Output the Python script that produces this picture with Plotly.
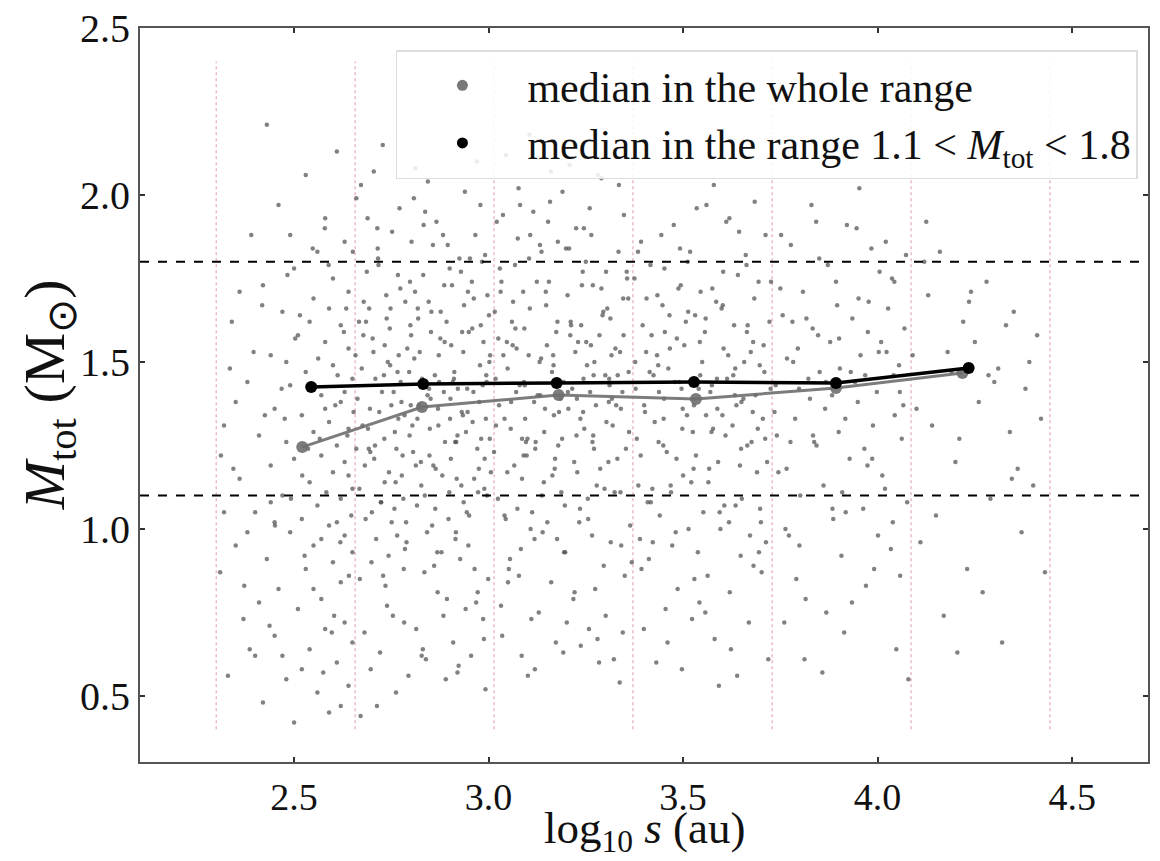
import plotly.graph_objects as go

# ---------------- data ----------------
bin_edges = [2.300, 2.657, 3.014, 3.371, 3.729, 4.086, 4.443]
ref_lines = [1.1, 1.8]

median_x_all = [2.521, 2.829, 3.180, 3.533, 3.893, 4.218]
median_y_all = [1.245, 1.365, 1.401, 1.389, 1.422, 1.467]
median_x_sub = [2.544, 2.832, 3.175, 3.528, 3.893, 4.234]
median_y_sub = [1.425, 1.434, 1.437, 1.440, 1.437, 1.482]

bin1_x = [2.31,2.32,2.33,2.34,2.35,2.36,2.37,2.38,2.39,2.40,
          2.40,2.41,2.42,2.42,2.43,2.43,2.44,2.44,2.45,2.45,
          2.46,2.46,2.47,2.47,2.48,2.48,2.49,2.49,2.50,2.50,
          2.50,2.51,2.51,2.52,2.52,2.53,2.53,2.53,2.54,2.54,
          2.55,2.55,2.55,2.56,2.56,2.56,2.57,2.57,2.57,2.58,
          2.58,2.58,2.59,2.59,2.59,2.60,2.60,2.60,2.60,2.61,
          2.61,2.61,2.62,2.62,2.62,2.62,2.63,2.63,2.63,2.63,
          2.64,2.64,2.64,2.64,2.65,2.65,2.65,2.65,2.66,2.66,
          2.36,2.38,2.41,2.44,2.47,2.49,2.52,2.54,2.57,2.59,
          2.61,2.63,2.32,2.48,2.58,2.62,2.35,2.45,2.55,2.64,
          2.335,2.372,2.418,2.451,2.476,2.503,2.527,2.548,2.566,2.583,
          2.597,2.612,2.628,2.641,2.653,2.344,2.396,2.437,2.468,2.492,
          2.515,2.536,2.562,2.575,2.589,2.606,2.619,2.634,2.647,2.658,
          2.312,2.386,2.425,2.483,2.521,2.553,2.579,2.603,2.637,2.651]
bin1_y = [0.87,1.31,0.56,1.62,0.95,1.15,0.73,1.44,1.88,0.62,
          1.05,1.28,0.48,1.73,2.21,0.91,1.19,1.52,0.68,1.36,
          0.82,1.97,1.10,1.65,0.55,1.26,0.99,1.43,0.42,1.78,
          1.21,0.76,1.58,1.03,1.34,0.88,2.06,1.47,0.64,1.14,
          1.69,0.95,1.29,0.51,1.83,1.07,1.40,0.79,1.22,1.93,
          0.70,1.56,1.01,1.32,0.45,1.75,0.90,1.17,1.49,0.60,
          1.25,2.13,0.84,1.61,1.09,1.38,0.72,1.86,1.20,0.98,
          1.54,0.53,1.30,1.71,0.93,1.12,1.45,0.66,1.99,1.24,
          1.71,0.99,0.78,1.08,0.62,1.88,0.58,1.62,0.97,1.66,
          1.02,1.41,1.05,1.50,1.36,0.47,1.38,1.02,0.82,1.16,
          1.48,0.83,1.67,1.01,1.33,1.57,0.92,1.84,1.27,1.11,
          0.69,1.46,1.59,0.86,1.35,1.18,1.53,0.71,1.42,1.09,
          1.64,1.24,1.51,0.57,1.79,1.37,0.96,1.66,1.04,1.52,
          1.22,0.64,1.34,1.76,1.16,1.43,1.90,0.74,1.28,1.83]

bin2_x = [2.668,2.702,2.735,2.771,2.804,2.839,2.873,2.906,2.944,2.981,
          2.674,2.711,2.748,2.779,2.812,2.851,2.884,2.918,2.952,2.992,
          2.681,2.719,2.752,2.788,2.823,2.858,2.892,2.927,2.961,2.997,
          2.687,2.724,2.759,2.794,2.829,2.866,2.899,2.934,2.968,3.004,
          2.692,2.728,2.765,2.799,2.835,2.870,2.904,2.939,2.975,2.985,
          2.671,2.706,2.741,2.776,2.816,2.846,2.879,2.912,2.949,2.988,
          2.678,2.715,2.744,2.783,2.819,2.855,2.888,2.923,2.957,2.993,
          2.684,2.721,2.756,2.791,2.826,2.862,2.895,2.930,2.964,3.001,
          2.695,2.731,2.762,2.797,2.832,2.869,2.902,2.937,2.971,2.979,
          2.699,2.737,2.768,2.802,2.842,2.876,2.909,2.942,2.978,2.996,
          2.667,2.708,2.739,2.774,2.809,2.844,2.881,2.915,2.946,2.983,
          2.676,2.713,2.746,2.781,2.814,2.849,2.886,2.921,2.955,2.990,
          2.689,2.726,2.758,2.786,2.821,2.860,2.897,2.932,2.966,2.999,
          2.697,2.733,2.767,2.806,2.837,2.872,2.911,2.941,2.973,2.987,
          2.682,2.717,2.750,2.785,2.827,2.853,2.890,2.925,2.959,2.995,
          2.693,2.729,2.763,2.796,2.831,2.864,2.901,2.936,2.970,3.003,
          2.672,2.704,2.743,2.777,2.811,2.847,2.883,2.917,2.950,2.986,
          2.663,2.685,2.700,2.716,2.732,2.747,2.761,2.773,2.789,2.801,
          2.817,2.833,2.848,2.863,2.877,2.893,2.908,2.920,2.935,2.948,
          2.962,2.976,2.991,3.006,2.669,2.690,2.709,2.723,2.738,2.754,
          2.769,2.784,2.798,2.813,2.828,2.843,2.857,2.871,2.887,2.903,
          2.916,2.929,2.945,2.958,2.972,2.989,3.002,2.679,2.696,2.714,
          2.733,2.751,2.766,2.782,2.800,2.818,2.836,2.852,2.868,2.885,
          2.900,2.914,2.931,2.947,2.963,2.980,2.994,2.705,2.808,2.920]
bin2_y = [1.12,1.57,0.83,1.96,1.31,0.61,1.44,1.73,1.05,1.27,
          1.48,0.97,1.66,1.22,2.08,1.39,0.74,1.15,1.81,0.52,
          0.69,1.35,1.89,1.02,1.53,1.19,1.62,0.91,1.41,1.70,
          1.77,1.08,1.29,0.56,1.45,1.92,1.11,1.34,0.78,1.52,
          1.24,2.15,0.98,1.61,0.87,1.36,1.55,2.01,1.18,1.43,
          0.44,1.21,1.50,1.38,1.07,1.68,0.93,1.47,1.59,0.67,
          1.58,1.84,1.17,0.72,1.63,1.01,1.26,0.59,1.74,1.33,
          1.03,0.63,1.41,1.54,1.20,1.46,1.85,1.13,0.88,1.64,
          1.36,1.46,0.51,1.28,1.76,0.81,1.39,1.67,1.24,1.97,
          0.90,1.70,1.33,1.86,0.99,1.57,0.66,1.29,1.49,1.10,
          1.62,1.25,0.77,1.44,1.51,2.04,1.16,0.97,1.35,1.80,
          1.31,0.47,1.60,1.09,0.70,1.30,1.73,1.42,0.62,1.21,
          1.93,1.41,1.06,1.68,1.37,0.89,1.03,1.59,1.88,0.85,
          0.58,1.14,1.76,1.23,1.95,1.52,1.45,0.76,1.11,1.56,
          1.19,1.79,1.37,0.94,1.13,1.65,0.55,1.81,1.32,1.44,
          1.66,0.86,1.24,1.47,0.64,1.18,1.33,1.08,2.10,1.27,
          2.03,1.53,0.92,1.16,1.71,1.42,1.88,1.26,1.04,0.73,
          1.39,1.62,1.05,1.81,1.27,1.49,1.14,1.72,0.96,1.58,
          1.33,1.91,1.22,1.06,1.65,0.79,1.44,1.28,1.53,0.95,
          1.69,1.38,1.82,1.17,0.85,1.30,1.45,1.08,1.63,0.74,
          1.52,1.34,1.74,1.19,0.62,1.40,1.85,1.31,1.56,1.21,
          0.99,1.77,1.42,1.60,0.81,1.12,1.50,1.68,1.23,1.90,
          1.55,1.02,1.47,0.88,1.37,1.66,1.10,1.59,0.93,1.41,
          1.78,1.26,1.35,1.71,1.15,1.61,1.46,2.07,1.99,0.57]

bin3_x = [3.018,3.052,3.089,3.121,3.158,3.192,3.227,3.263,3.298,3.334,
          3.024,3.060,3.094,3.129,3.163,3.199,3.233,3.269,3.305,3.341,
          3.029,3.066,3.101,3.135,3.171,3.205,3.240,3.274,3.311,3.347,
          3.035,3.071,3.107,3.142,3.176,3.212,3.246,3.281,3.316,3.353,
          3.041,3.077,3.112,3.148,3.182,3.218,3.253,3.287,3.322,3.359,
          3.047,3.083,3.117,3.153,3.187,3.223,3.258,3.293,3.328,3.364,
          3.014,3.049,3.086,3.119,3.155,3.189,3.225,3.261,3.296,3.332,
          3.021,3.057,3.092,3.126,3.161,3.196,3.230,3.266,3.302,3.337,
          3.032,3.063,3.098,3.132,3.168,3.203,3.237,3.272,3.308,3.344,
          3.038,3.074,3.104,3.139,3.174,3.208,3.243,3.278,3.313,3.350,
          3.044,3.080,3.110,3.145,3.179,3.215,3.250,3.284,3.319,3.356,
          3.016,3.055,3.091,3.124,3.166,3.194,3.228,3.264,3.300,3.339,
          3.027,3.068,3.096,3.137,3.173,3.210,3.244,3.276,3.314,3.348,
          3.050,3.086,3.115,3.150,3.185,3.220,3.256,3.290,3.326,3.361,
          3.031,3.072,3.108,3.143,3.178,3.201,3.238,3.271,3.309,3.345,
          3.045,3.105,3.160,3.222,3.290,3.081,3.190,3.260,3.335,3.128,
          3.019,3.033,3.048,3.062,3.078,3.093,3.106,3.120,3.136,3.151,
          3.167,3.181,3.197,3.211,3.226,3.242,3.255,3.270,3.285,3.301,
          3.317,3.331,3.346,3.360,3.025,3.041,3.058,3.075,3.090,3.103,
          3.118,3.133,3.147,3.164,3.177,3.193,3.207,3.221,3.236,3.251,
          3.267,3.280,3.295,3.310,3.324,3.340,3.355,3.368,3.037,3.069,
          3.100,3.131,3.170,3.204,3.235,3.268,3.303,3.338,3.085,3.245]
bin3_y = [1.45,0.88,1.71,1.26,1.98,0.63,1.39,1.55,1.12,1.83,
          1.09,1.62,1.33,0.75,1.47,1.84,1.02,1.28,1.66,0.95,
          1.78,1.19,0.56,1.51,1.21,1.36,1.73,0.82,1.43,1.58,
          0.68,1.41,1.88,1.14,0.97,1.61,1.30,2.06,1.52,1.24,
          1.33,2.02,1.05,1.67,1.44,0.79,1.49,1.18,0.61,1.69,
          1.56,0.94,1.38,1.92,1.11,1.53,0.70,1.64,1.37,1.01,
          1.23,1.48,1.15,0.58,1.74,1.27,1.90,1.41,0.89,1.46,
          1.92,1.30,1.60,1.40,0.84,1.07,1.56,0.98,1.77,0.54,
          0.77,1.68,1.22,1.85,1.34,1.70,0.65,1.50,1.20,1.41,
          1.52,1.06,1.81,0.99,1.59,2.09,1.35,1.13,1.63,0.86,
          1.03,1.43,0.73,1.36,1.25,1.42,1.80,0.60,1.31,1.75,
          1.65,0.91,1.44,1.74,1.52,0.93,1.17,1.88,1.46,1.11,
          1.37,1.79,1.26,1.10,0.66,1.58,1.45,1.37,0.96,1.94,
          0.84,1.27,1.95,1.55,1.39,1.20,1.03,1.72,1.54,1.29,
          1.71,1.54,1.00,1.29,1.86,0.72,1.61,1.24,1.38,0.69,
          2.12,2.18,2.07,2.15,2.05,1.97,2.01,1.96,2.03,2.11,
          1.31,1.74,1.17,1.55,0.86,1.43,1.66,1.24,1.83,1.02,
          1.49,1.35,0.93,1.62,1.28,1.77,1.09,1.46,1.58,0.74,
          1.39,1.21,1.69,1.47,1.57,1.04,1.38,1.87,1.22,1.52,
          0.97,1.40,1.71,1.16,1.62,1.44,1.84,0.81,1.33,1.56,
          1.26,0.67,1.65,1.45,1.11,1.36,1.77,0.90,1.94,1.60,
          1.27,1.50,1.18,1.41,1.06,1.73,1.32,1.53,0.62,1.90]

bin4_x = [3.378,3.412,3.447,3.483,3.518,3.552,3.588,3.623,3.657,3.694,
          3.385,3.419,3.455,3.490,3.525,3.560,3.596,3.631,3.665,3.702,
          3.392,3.427,3.462,3.497,3.531,3.567,3.603,3.637,3.672,3.709,
          3.399,3.434,3.469,3.503,3.538,3.574,3.609,3.644,3.680,3.716,
          3.405,3.440,3.476,3.510,3.545,3.581,3.616,3.651,3.686,3.722,
          3.381,3.416,3.451,3.486,3.521,3.556,3.592,3.627,3.661,3.698,
          3.389,3.424,3.458,3.494,3.528,3.563,3.599,3.634,3.669,3.705,
          3.396,3.431,3.466,3.500,3.535,3.570,3.606,3.641,3.676,3.712,
          3.402,3.437,3.472,3.507,3.542,3.577,3.613,3.648,3.683,3.719,
          3.409,3.444,3.479,3.514,3.549,3.585,3.620,3.655,3.690,3.725,
          3.375,3.421,3.453,3.499,3.533,3.579,3.601,3.646,3.674,3.713,
          3.393,3.436,3.460,3.492,3.540,3.565,3.611,3.639,3.692,3.707,
          3.414,3.450,3.488,3.523,3.558,3.594,3.629,3.663,3.700,3.684,
          3.377,3.391,3.406,3.422,3.438,3.452,3.468,3.484,3.498,3.513,
          3.529,3.544,3.559,3.575,3.590,3.604,3.619,3.635,3.650,3.666,
          3.681,3.697,3.711,3.726,3.384,3.400,3.417,3.433,3.449,3.465,
          3.481,3.496,3.512,3.527,3.543,3.557,3.573,3.587,3.602,3.618,
          3.633,3.649,3.664,3.679,3.695]
bin4_y = [1.42,0.91,1.67,1.21,1.83,1.05,1.36,0.64,1.50,1.74,
          1.13,1.58,0.76,1.44,1.29,1.97,1.00,1.61,1.25,0.87,
          1.86,1.32,1.48,0.58,1.64,1.18,1.77,1.37,0.98,1.47,
          0.70,1.70,1.11,1.55,0.93,1.43,1.28,1.89,1.56,1.20,
          1.53,1.04,1.91,1.34,1.71,0.67,1.52,1.09,1.40,1.62,
          1.27,1.79,1.39,0.82,1.14,1.59,0.53,1.31,1.82,1.06,
          0.97,1.46,1.23,1.73,1.37,0.86,1.66,1.48,0.72,1.33,
          1.61,0.60,1.54,1.16,1.96,1.41,1.07,1.76,1.26,1.88,
          1.35,1.26,0.95,1.62,0.78,1.30,1.45,0.92,1.69,0.61,
          1.08,1.88,1.44,1.00,1.50,1.68,0.81,1.39,1.17,1.42,
          1.75,1.12,1.59,1.36,1.22,2.03,1.34,1.19,1.53,0.96,
          0.88,1.49,0.66,1.84,1.42,1.14,1.92,0.56,1.30,1.55,
          1.47,1.33,1.72,0.73,1.63,1.05,1.46,1.79,1.02,1.98,
          1.50,1.22,1.69,0.96,1.41,1.78,1.13,1.57,1.30,1.65,
          0.85,1.46,1.34,1.72,1.20,1.54,1.93,1.07,1.38,1.61,
          0.89,1.49,1.27,1.74,1.83,1.37,1.08,1.52,1.25,1.64,
          0.99,1.42,1.80,1.18,1.56,0.75,1.29,1.45,1.67,1.02,
          1.40,1.24,1.59,1.35,0.93]

bin5_x = [3.738,3.772,3.808,3.843,3.878,3.914,3.949,3.984,4.019,4.055,
          3.745,3.781,3.815,3.851,3.886,3.921,3.956,3.991,4.027,4.062,
          3.752,3.788,3.822,3.858,3.893,3.928,3.963,3.998,4.034,4.069,
          3.760,3.795,3.830,3.865,3.900,3.935,3.970,4.005,4.041,4.076,
          3.767,3.801,3.837,3.872,3.907,3.942,3.977,4.012,4.048,4.073,
          3.741,3.777,3.812,3.847,3.883,3.918,3.953,3.988,4.023,4.058,
          3.756,3.791,3.826,3.861,3.896,3.931,3.966,4.001,4.037,4.066,
          3.763,3.798,3.833,3.868,3.903,3.946,3.974,4.009,4.044,4.079,
          3.735,3.750,3.766,3.783,3.799,3.817,3.834,3.850,3.867,3.884,
          3.901,3.917,3.934,3.951,3.968,3.986,4.003,4.021,4.039,4.057,
          3.776,3.842,3.909,3.975,4.043]
bin5_y = [1.43,0.98,1.71,1.25,1.56,0.69,1.38,1.84,1.12,1.49,
          1.17,1.62,0.79,1.47,1.03,1.91,1.52,0.88,1.66,1.27,
          1.88,1.33,1.45,0.57,1.74,1.21,1.06,1.41,0.94,1.60,
          0.72,1.54,1.97,1.36,1.29,1.63,0.83,1.77,1.46,1.08,
          1.51,1.10,1.26,1.79,0.92,1.44,1.68,1.16,0.64,1.82,
          1.28,1.85,0.61,1.58,1.40,1.05,2.02,1.31,1.53,0.86,
          1.64,0.85,1.39,1.13,1.67,1.47,1.24,0.98,1.75,1.37,
          1.00,1.42,1.60,0.75,1.48,1.90,1.19,1.56,1.34,0.55,
          1.35,1.72,1.18,1.50,0.95,1.63,1.28,1.81,1.44,1.06,
          1.57,1.33,0.78,1.69,1.46,1.21,1.53,1.86,1.02,1.41,
          1.26,1.92,1.11,1.59,1.74]

bin6_x = [4.09,4.11,4.13,4.14,4.16,4.17,4.19,4.20,4.22,4.23,
          4.25,4.26,4.28,4.29,4.31,4.32,4.34,4.35,4.37,4.38,
          4.40,4.41,4.43,4.10,4.12,4.15,4.18,4.21,4.24,4.27,
          4.30,4.33,4.36,4.39,4.42,4.125,4.205,4.285,4.345,4.235]
bin6_y = [1.52,0.96,1.70,1.31,1.83,0.74,1.47,1.20,1.62,0.88,
          1.56,1.38,1.74,1.09,1.48,0.66,1.29,1.65,0.99,1.42,
          1.13,1.58,0.87,1.36,1.80,1.04,1.53,1.27,1.71,0.81,
          1.44,1.61,1.18,1.50,1.33,1.92,0.63,1.46,1.15,1.68]

x_range = [2.104, 4.695]
y_range = [0.302, 2.5]
x_ticks = [2.5, 3.0, 3.5, 4.0, 4.5]
y_ticks = [0.5, 1.0, 1.5, 2.0, 2.5]

x_title = "log<sub>10</sub> <i>s</i> (au)"
y_title = "<i>M</i><sub>tot</sub> (M<sub>⊙</sub>)"
legend_all = "median in the whole range"
legend_sub = "median in the range 1.1 &lt; <i>M</i><sub>tot</sub> &lt; 1.8"

# ---------------- figure ----------------
FONT = "Liberation Serif, Times New Roman, serif"
fig = go.Figure()

scat_x = bin1_x + bin2_x + bin3_x + bin4_x + bin5_x + bin6_x
scat_y = bin1_y + bin2_y + bin3_y + bin4_y + bin5_y + bin6_y
fig.add_trace(go.Scatter(x=scat_x, y=scat_y, mode="markers",
                         marker=dict(size=4.5, color="rgba(75,75,75,0.7)", line=dict(width=0)),
                         showlegend=False, hoverinfo="skip"))

for xe in bin_edges:
    fig.add_shape(type="line", xref="x", yref="y", x0=xe, x1=xe, y0=0.4, y1=2.4,
                  line=dict(color="rgba(225,150,165,0.7)", width=1.4, dash="dot"), layer="below")
for yl in ref_lines:
    fig.add_shape(type="line", xref="paper", yref="y", x0=0, x1=1, y0=yl, y1=yl,
                  line=dict(color="black", width=2, dash="dash"))

fig.add_trace(go.Scatter(x=median_x_all, y=median_y_all, mode="lines+markers",
                         line=dict(color="rgba(110,110,110,0.9)", width=3),
                         marker=dict(size=12, color="rgba(110,110,110,0.9)"),
                         showlegend=False))
fig.add_trace(go.Scatter(x=median_x_sub, y=median_y_sub, mode="lines+markers",
                         line=dict(color="black", width=3.5),
                         marker=dict(size=12, color="black"),
                         showlegend=False))
# legend-only entries
fig.add_trace(go.Scatter(x=[None], y=[None], mode="markers", name=legend_all,
                         marker=dict(size=11, color="rgba(120,120,120,1)")))
fig.add_trace(go.Scatter(x=[None], y=[None], mode="markers", name=legend_sub,
                         marker=dict(size=11, color="black")))

axis_common = dict(showline=True, linecolor="#555", linewidth=2, mirror="ticks",
                   ticks="inside", ticklen=5, tickcolor="#333", tickwidth=1.5,
                   showgrid=False, zeroline=False, automargin=False,
                   tickfont=dict(family=FONT, size=40, color="#111"))

fig.update_xaxes(range=x_range, tickvals=x_ticks, ticktext=[f"{v:.1f}" for v in x_ticks],
                 ticklabelstandoff=0, tickfont=dict(family=FONT, size=38, color="#111"),
                 **{k: v for k, v in axis_common.items() if k != "tickfont"})
fig.update_yaxes(range=y_range, tickvals=y_ticks, ticktext=[f"{v:.1f}" for v in y_ticks],
                 **axis_common)

fig.add_annotation(text=x_title, xref="paper", yref="paper", x=0.5, y=-0.1345,
                   xanchor="center", yanchor="bottom", showarrow=False,
                   font=dict(family=FONT, size=45, color="#111"))
fig.add_annotation(text=y_title, xref="paper", yref="paper", x=-0.091, y=0.5,
                   xanchor="center", yanchor="middle", showarrow=False, textangle=-90,
                   font=dict(family=FONT, size=58, color="#111"))

fig.update_layout(
    width=1160, height=861,
    margin=dict(l=140, r=12, t=28, b=99),
    plot_bgcolor="white", paper_bgcolor="white",
    font=dict(family=FONT, color="#111"),
    legend=dict(x=0.990, y=0.970, xanchor="right", yanchor="top",
                bgcolor="rgba(255,255,255,0.85)", bordercolor="#ddd", borderwidth=1.5,
                font=dict(family=FONT, size=42, color="#111"),
                itemwidth=120),
)

fig.write_html("out.html")
